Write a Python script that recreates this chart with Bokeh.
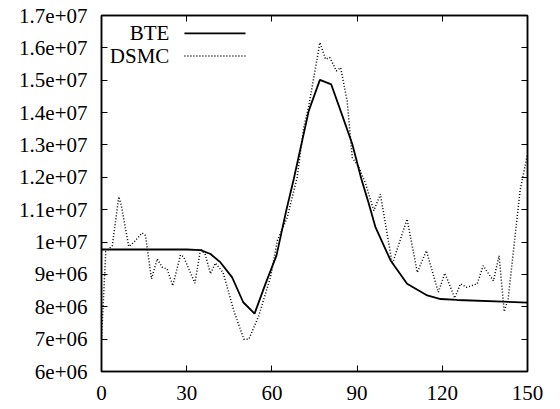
from bokeh.plotting import figure
from bokeh.models import Range1d, LinearAxis, FixedTicker, Label
from bokeh.embed import file_html
from bokeh.resources import INLINE

# ---- data ----
bte_x = [0, 30, 34.9, 38.4, 41.9, 46.0, 49.9, 53.9, 57.7, 61.6, 65.0, 67.7, 73.0,
         76.9, 80.9, 84.7, 88.3, 91.5, 93.8, 96.5, 101.8, 107.6, 114.7, 119.4, 125.2, 150]
bte_y = [9.77e6, 9.77e6, 9.75e6, 9.63e6, 9.37e6, 8.91e6, 8.14e6, 7.79e6, 8.70e6, 9.58e6,
         10.95e6, 11.95e6, 14.06e6, 15.01e6, 14.87e6, 13.93e6, 13.03e6, 11.95e6, 11.28e6,
         10.45e6, 9.43e6, 8.71e6, 8.35e6, 8.24e6, 8.21e6, 8.13e6]

dsmc_x = [0, 1.5, 3.8, 6.1, 7.0, 9.6, 11.4, 14.3, 15.5, 17.6, 19.6, 21.4, 23.1, 25.1,
          27.8, 28.9, 32.9, 34.9, 36.5, 38.4, 40.1, 42.8, 46.6, 50.1, 51.9, 55.4, 59.5,
          61.9, 65.4, 68.9, 71.2, 73.0, 76.9, 78.9, 80.4, 82.7, 84.2, 86.5, 88.3, 90.6,
          93.0, 95.9, 98.2, 102.4, 107.6, 111.2, 114.4, 118.6, 120.9, 124.4, 126.4, 128.5,
          132.3, 134.4, 138.0, 140.0, 141.8, 143.2, 147.4, 150]
dsmc_y = [7.0e6, 9.7e6, 9.89e6, 11.4e6, 11.12e6, 9.86e6, 9.99e6, 10.28e6, 10.2e6, 8.86e6,
          9.48e6, 9.22e6, 9.17e6, 8.65e6, 9.6e6, 9.55e6, 8.73e6, 9.79e6, 9.62e6, 9.02e6,
          9.35e6, 9.06e6, 7.88e6, 7.0e6, 7.0e6, 7.73e6, 8.91e6, 10.04e6, 10.76e6, 12.0e6,
          13.54e6, 14.21e6, 16.16e6, 15.65e6, 15.7e6, 15.29e6, 15.39e6, 14.36e6, 12.61e6,
          12.31e6, 11.8e6, 10.97e6, 11.48e6, 9.32e6, 10.71e6, 9.06e6, 9.73e6, 8.45e6,
          9.04e6, 8.27e6, 8.71e6, 8.6e6, 8.71e6, 9.27e6, 8.8e6, 9.58e6, 7.85e6, 8.25e6,
          11.6e6, 12.72e6]

x_ticks = [0, 30, 60, 90, 120, 150]
y_ticks = [6e6, 7e6, 8e6, 9e6, 1e7, 1.1e7, 1.2e7, 1.3e7, 1.4e7, 1.5e7, 1.6e7, 1.7e7]
y_tick_labels = ["6e+06", "7e+06", "8e+06", "9e+06", "1e+07", "1.1e+07", "1.2e+07",
                 "1.3e+07", "1.4e+07", "1.5e+07", "1.6e+07", "1.7e+07"]
series_names = ["BTE", "DSMC"]

FONT = "Liberation Serif"
FS = "21px"

p = figure(width=560, height=409, output_backend="svg", toolbar_location=None,
           x_range=Range1d(0, 150), y_range=Range1d(6e6, 1.7e7),
           min_border_left=101, min_border_right=33, min_border_top=15, min_border_bottom=38)
p.frame_width = 426
p.frame_height = 356
p.background_fill_color = "white"
p.border_fill_color = "white"
p.outline_line_color = "black"
p.outline_line_width = 1.5
p.xgrid.visible = False
p.ygrid.visible = False

overrides = {t: l for t, l in zip(y_ticks, y_tick_labels)}

def style(ax, labels=True):
    ax.axis_line_color = "black"
    ax.axis_line_width = 1.5
    ax.major_tick_in = 6
    ax.major_tick_out = 0
    ax.minor_tick_line_color = None
    ax.major_tick_line_color = "black"
    ax.major_tick_line_width = 1
    ax.major_label_text_font = FONT
    ax.major_label_text_font_size = FS
    ax.major_label_text_color = "black"
    if not labels:
        ax.major_label_text_font_size = "0px"
        ax.major_label_text_color = None

p.xaxis.ticker = FixedTicker(ticks=x_ticks)
p.yaxis.ticker = FixedTicker(ticks=y_ticks)
p.yaxis.major_label_overrides = overrides
p.xaxis.major_label_standoff = 14
p.yaxis.major_label_standoff = 14
style(p.xaxis[0])
style(p.yaxis[0])

top = LinearAxis(ticker=FixedTicker(ticks=x_ticks))
style(top, labels=False)
p.add_layout(top, "above")
right = LinearAxis(ticker=FixedTicker(ticks=y_ticks))
style(right, labels=False)
p.add_layout(right, "right")

p.line(bte_x, bte_y, line_color="black", line_width=1.8)
p.line(dsmc_x, dsmc_y, line_color="black", line_width=1.5, line_dash="1 2")

# legend (key text right-aligned, sample line to its right)
LEG_TEXT_X = 23.9
LEG_LINE_X0, LEG_LINE_X1 = 29.2, 50.7
LEG_Y = [16.45e6, 15.75e6]
styles = [dict(line_width=1.8, line_dash="solid"), dict(line_width=1.5, line_dash="1 2")]
for name, yy, st in zip(series_names, LEG_Y, styles):
    p.add_layout(Label(x=LEG_TEXT_X, y=yy, text=name, text_align="right",
                       text_baseline="middle", text_font=FONT, text_font_size=FS,
                       text_color="black"))
    p.segment(x0=[LEG_LINE_X0], y0=[yy], x1=[LEG_LINE_X1], y1=[yy],
              line_color="black", **st)

open("out.html", "w").write(file_html(p, INLINE))
